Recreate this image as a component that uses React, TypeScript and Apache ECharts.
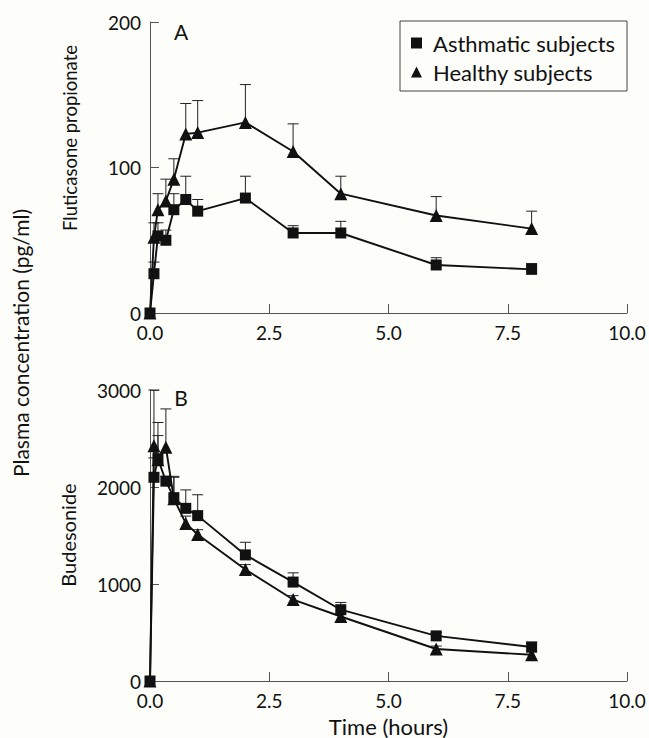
import React, { useEffect, useRef } from "react";
import * as echarts from "echarts";

const times = [0, 0.083, 0.167, 0.333, 0.5, 0.75, 1, 2, 3, 4, 6, 8];
const xTicks = ["0.0", "2.5", "5.0", "7.5", "10.0"];

// Panel A: fluticasone propionate (pg/ml)
const fpAsthma = [0, 27, 53, 50, 71, 78, 70, 79, 55, 55, 33, 30];
const fpAsthmaUpper = [0, 35, 62, 57, 82, 94, 78, 94, 60, 63, 38, 34];
const fpHealthy = [0, 52, 71, 77, 92, 123, 124, 131, 111, 82, 67, 58];
const fpHealthyUpper = [0, 62, 82, 92, 106, 144, 146, 157, 130, 94, 80, 70];

// Panel B: budesonide (pg/ml)
const budAsthma = [0, 2100, 2290, 2060, 1890, 1780, 1705, 1300, 1020, 735, 465, 350];
const budAsthmaUpper = [0, 2300, 2530, 2110, 2110, 1970, 1920, 1430, 1115, 810, 500, 400];
const budHealthy = [0, 2425, 2280, 2410, 1880, 1625, 1510, 1150, 840, 665, 330, 270];
const budHealthyUpper = [0, 3000, 2665, 2805, 2100, 1700, 1560, 1200, 880, 700, 360, 300];

const FONT = "Lato, 'DejaVu Sans', sans-serif";
const INK = "#111";
const AXIS = "#555";

function pairs(vals: number[]) {
  return times.map((t, i) => [t, vals[i]]);
}
function errs(vals: number[], upper: number[]) {
  return times.map((t, i) => [t, vals[i], upper[i]]);
}

const errRender = (params: any, api: any) => {
  const x = api.value(0);
  const lo = api.value(1);
  const hi = api.value(2);
  if (hi <= lo) return { type: "group", children: [] };
  const p1 = api.coord([x, lo]);
  const p2 = api.coord([x, hi]);
  const style = { stroke: "#222", lineWidth: 1 };
  return {
    type: "group",
    children: [
      { type: "line", shape: { x1: p1[0], y1: p1[1], x2: p2[0], y2: p2[1] }, style },
      { type: "line", shape: { x1: p2[0] - 5.5, y1: p2[1], x2: p2[0] + 5.5, y2: p2[1] }, style },
    ],
  };
};

function xAxisCfg(gridIndex: number, withName: boolean) {
  return {
    type: "value",
    gridIndex,
    min: 0,
    max: 10,
    interval: 2.5,
    name: withName ? "Time (hours)" : "",
    nameLocation: "middle",
    nameGap: 34,
    nameTextStyle: { fontFamily: FONT, fontSize: 22, color: INK },
    axisLine: { show: true, onZero: false, lineStyle: { color: AXIS, width: 1 } },
    axisTick: { show: true, inside: true, length: 9, lineStyle: { color: AXIS } },
    axisLabel: {
      fontFamily: FONT,
      fontSize: 19,
      lineHeight: 16,
      color: INK,
      margin: 11,
      formatter: (v: number) => xTicks[Math.round(v / 2.5)] ?? String(v),
    },
    splitLine: { show: false },
  };
}

function yAxisCfg(gridIndex: number, max: number, interval: number) {
  return {
    type: "value",
    gridIndex,
    min: 0,
    max,
    interval,
    axisLine: { show: true, lineStyle: { color: AXIS, width: 1 } },
    axisTick: { show: true, inside: true, length: 9, lineStyle: { color: AXIS } },
    axisLabel: {
      fontFamily: FONT,
      fontSize: 19,
      lineHeight: 14,
      color: INK,
      margin: 9,
      formatter: (v: number) => String(v),
    },
    splitLine: { show: false },
  };
}

function lineSeries(name: string, idx: number, vals: number[], symbol: string, size: number) {
  return {
    name,
    type: "line",
    xAxisIndex: idx,
    yAxisIndex: idx,
    data: pairs(vals),
    symbol,
    symbolSize: size,
    showAllSymbol: true,
    itemStyle: { color: INK },
    lineStyle: { color: INK, width: 1.9 },
    z: 3,
  };
}

function errSeries(idx: number, vals: number[], upper: number[]) {
  return {
    type: "custom",
    xAxisIndex: idx,
    yAxisIndex: idx,
    data: errs(vals, upper),
    renderItem: errRender,
    encode: { x: 0, y: [1, 2] },
    silent: true,
    z: 2,
  };
}

export default function App() {
  const ref = useRef<HTMLDivElement>(null);
  useEffect(() => {
    if (!ref.current) return;
    const chart = echarts.init(ref.current, undefined, { renderer: "svg" });
    chart.setOption({
      animation: false,
      backgroundColor: "#fdfdfa",
      grid: [
        { left: 150, top: 22, width: 477, height: 291 },
        { left: 150, top: 390, width: 477, height: 292 },
      ],
      xAxis: [xAxisCfg(0, false), xAxisCfg(1, true)],
      yAxis: [yAxisCfg(0, 200, 100), yAxisCfg(1, 3000, 1000)],
      legend: {
        orient: "vertical",
        left: 411,
        top: 32,
        itemWidth: 11,
        itemHeight: 11,
        itemGap: 7,
        padding: 0,
        textStyle: { fontFamily: FONT, fontSize: 22, color: INK, lineHeight: 22, padding: [0, 0, 0, 6] },
        data: [
          { name: "Asthmatic subjects", icon: "rect" },
          { name: "Healthy subjects", icon: "triangle" },
        ],
        selectedMode: false,
      },
      graphic: [
        {
          type: "rect",
          shape: { x: 400, y: 21, width: 227, height: 70 },
          style: { fill: "none", stroke: "#444", lineWidth: 1 },
        },
        {
          type: "text",
          x: 181,
          y: 31,
          style: { text: "A", fontFamily: FONT, fontSize: 21, fill: INK, align: "center", verticalAlign: "middle" },
        },
        {
          type: "text",
          x: 181,
          y: 397,
          style: { text: "B", fontFamily: FONT, fontSize: 21, fill: INK, align: "center", verticalAlign: "middle" },
        },
        {
          type: "text",
          x: 70,
          y: 138,
          rotation: Math.PI / 2,
          style: { text: "Fluticasone propionate", fontFamily: FONT, fontSize: 18.5, fill: INK, align: "center", verticalAlign: "middle" },
        },
        {
          type: "text",
          x: 68,
          y: 535,
          rotation: Math.PI / 2,
          style: { text: "Budesonide", fontFamily: FONT, fontSize: 20, fill: INK, align: "center", verticalAlign: "middle" },
        },
        {
          type: "text",
          x: 20,
          y: 343,
          rotation: Math.PI / 2,
          style: { text: "Plasma concentration (pg/ml)", fontFamily: FONT, fontSize: 21, fill: INK, align: "center", verticalAlign: "middle" },
        },
      ],
      series: [
        errSeries(0, fpAsthma, fpAsthmaUpper),
        errSeries(0, fpHealthy, fpHealthyUpper),
        lineSeries("Asthmatic subjects", 0, fpAsthma, "rect", 11),
        lineSeries("Healthy subjects", 0, fpHealthy, "triangle", 13),
        errSeries(1, budAsthma, budAsthmaUpper),
        errSeries(1, budHealthy, budHealthyUpper),
        lineSeries("Asthmatic subjects", 1, budAsthma, "rect", 11),
        lineSeries("Healthy subjects", 1, budHealthy, "triangle", 13),
      ],
    });
    return () => chart.dispose();
  }, []);
  return <div ref={ref} style={{ width: 649, height: 738, position: "absolute", left: 0, top: 0 }} />;
}
